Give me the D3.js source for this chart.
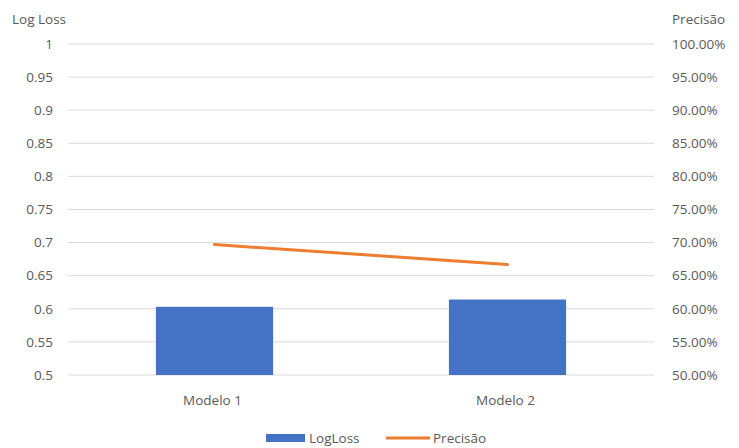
<!DOCTYPE html>
<html><head><meta charset="utf-8">
<script src="https://cdn.jsdelivr.net/npm/d3@7"></script>
<style>body{margin:0;background:#fff}svg{display:block;font-family:"Open Sans",sans-serif}</style>
</head><body>
<svg id="c" width="739" height="448"></svg>
<script>
const categories = ["Modelo 1", "Modelo 2"];
const logLoss = [0.603, 0.614];
const precisao = [0.697, 0.667];
const leftTicks = [0.5,0.55,0.6,0.65,0.7,0.75,0.8,0.85,0.9,0.95,1];
const rightTicks = [0.5,0.55,0.6,0.65,0.7,0.75,0.8,0.85,0.9,0.95,1];

const svg = d3.select("#c");
const L = 68, R = 654, T = 44, B = 375;
const x = d3.scaleBand().domain(categories).range([L, R]);
const yL = d3.scaleLinear().domain([0.5, 1]).range([B, T]);
const yR = d3.scaleLinear().domain([0.5, 1]).range([B, T]);
const txt = "#595959", fs = 13.5;

svg.append("g").selectAll("line").data(leftTicks).join("line")
  .attr("x1", L).attr("x2", R).attr("y1", d=>yL(d)).attr("y2", d=>yL(d))
  .attr("stroke", "#d9d9d9").attr("stroke-width", 1);

svg.append("g").selectAll("text").data(leftTicks).join("text")
  .attr("x", 53).attr("y", d=>yL(d)).attr("dy","0.35em").attr("text-anchor","end")
  .attr("fill", txt).attr("font-size", fs).text(d=>d3.format("")(d));
svg.append("g").selectAll("text").data(rightTicks).join("text")
  .attr("x", 672).attr("y", d=>yR(d)).attr("dy","0.35em").attr("text-anchor","start")
  .attr("fill", txt).attr("font-size", fs).text(d=>d3.format(".2%")(d));

svg.append("text").attr("x", 12).attr("y", 24).attr("fill", txt).attr("font-size", fs).text("Log Loss");
svg.append("text").attr("x", 672).attr("y", 24).attr("fill", txt).attr("font-size", fs).text("Precisão");

const bw = x.bandwidth()*0.4;
svg.append("g").selectAll("rect").data(categories).join("rect")
  .attr("x", (d)=>x(d)+x.bandwidth()/2-bw/2).attr("width", bw)
  .attr("y", (d,i)=>yL(logLoss[i])).attr("height", (d,i)=>B-yL(logLoss[i]))
  .attr("fill", "#4472C4");

svg.append("path").datum(precisao)
  .attr("d", d3.line().x((d,i)=>x(categories[i])+x.bandwidth()/2).y(d=>yR(d)))
  .attr("fill","none").attr("stroke","#ED7D31").attr("stroke-width",3).attr("stroke-linecap","round");

svg.append("g").selectAll("text").data(categories).join("text")
  .attr("x", d=>x(d)+x.bandwidth()/2-2).attr("y", 405).attr("text-anchor","middle")
  .attr("fill", txt).attr("font-size", fs).text(d=>d);

const lg = svg.append("g");
lg.append("rect").attr("x",266).attr("y",434).attr("width",39).attr("height",8).attr("fill","#4472C4");
lg.append("text").attr("x",309).attr("y",443).attr("fill",txt).attr("font-size",fs).text("LogLoss");
lg.append("line").attr("x1",386).attr("x2",430).attr("y1",438).attr("y2",438).attr("stroke","#ED7D31").attr("stroke-width",3);
lg.append("text").attr("x",433).attr("y",443).attr("fill",txt).attr("font-size",fs).text("Precisão");
</script>
</body></html>
